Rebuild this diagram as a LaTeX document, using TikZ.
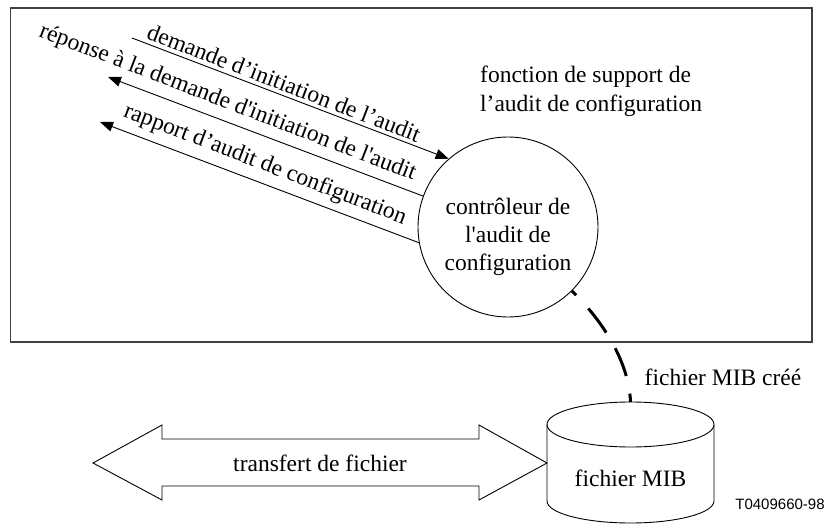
\documentclass[tikz,border=0pt]{standalone}
\usepackage{fontspec}
\setmainfont{Liberation Serif}
\newfontfamily\labelsans{Liberation Sans}
\usetikzlibrary{arrows.meta}
\begin{document}
\begin{tikzpicture}[x=1pt,y=-1pt,
  txt/.style={font=\fontsize{23.5}{28}\selectfont, inner sep=0pt},
  rottxt/.style={txt, rotate=-21},
  flow/.style={line width=0.9pt, -{Triangle[length=13pt,width=10pt]}},
  thinline/.style={line width=0.9pt},
  frame/.style={line width=1.3pt, draw=black!75},
  dashedlink/.style={line width=3pt, dash pattern=on 30pt off 18pt, dash phase=24pt},
]
\useasboundingbox (0,0) rectangle (828,527);

% outer frame
\draw[frame] (10.5,8) rectangle (812,342);

% function label
\node[txt, align=left, anchor=base west] (fn) at (480,112)
  {fonction de support de\\[2pt]l’audit de configuration};

% controller circle
\node[circle, draw, thinline, minimum size=180pt, inner sep=0pt] (c) at (508,227) {};
\node[txt, align=center, font=\fontsize{23.5}{28}\selectfont] (ctext) at (508,237)
  {contrôleur de\\l\textquotesingle audit de\\configuration};

% arrows on the left
\coordinate (a1) at (132,38);
\coordinate (a2) at (108,77);
\coordinate (a3) at (100,122);
\draw[flow] (a1) -- (c.131.8);
\draw[flow] (c.160) -- (a2);
\draw[flow] (c.190) -- (a3);

\node[rottxt] (t1) at (284,83) {demande d’initiation de l’audit};
\node[rottxt] (t2) at (227.5,103) {réponse à la demande d\textquotesingle initiation de l\textquotesingle audit};
\node[rottxt] (t3) at (265,165) {rapport d’audit de configuration};

% cylinder (MIB file)
\draw[thinline] (547,424.5) -- (547,501)
  arc[start angle=180, end angle=0, x radius=83.5, y radius=22] -- (714,424.5);
\draw[thinline] (630.5,424.5) ellipse[x radius=83.5, y radius=22.5];
\coordinate (cyltop) at (630.5,402);
\node[txt] (mib) at (630.5,478) {fichier MIB};

% dashed link
\draw[dashedlink] (c.-45) .. controls (600,318) and (629,360) .. (cyltop);
\node[txt] (mibc) at (723,377) {fichier MIB créé};

% double arrow (file transfer)
\draw[thinline, line join=miter] (93,463) -- (162,425) -- (162,439) -- (479,439) -- (479,425)
  -- (547,463) -- (479,500) -- (479,486) -- (162,486) -- (162,500) -- cycle;
\node[txt] (xfer) at (320,463) {transfert de fichier};

% figure id
\node[font=\labelsans\fontsize{15}{18}\selectfont, inner sep=0pt] (fid) at (780,504) {T0409660-98};
\end{tikzpicture}
\end{document}
